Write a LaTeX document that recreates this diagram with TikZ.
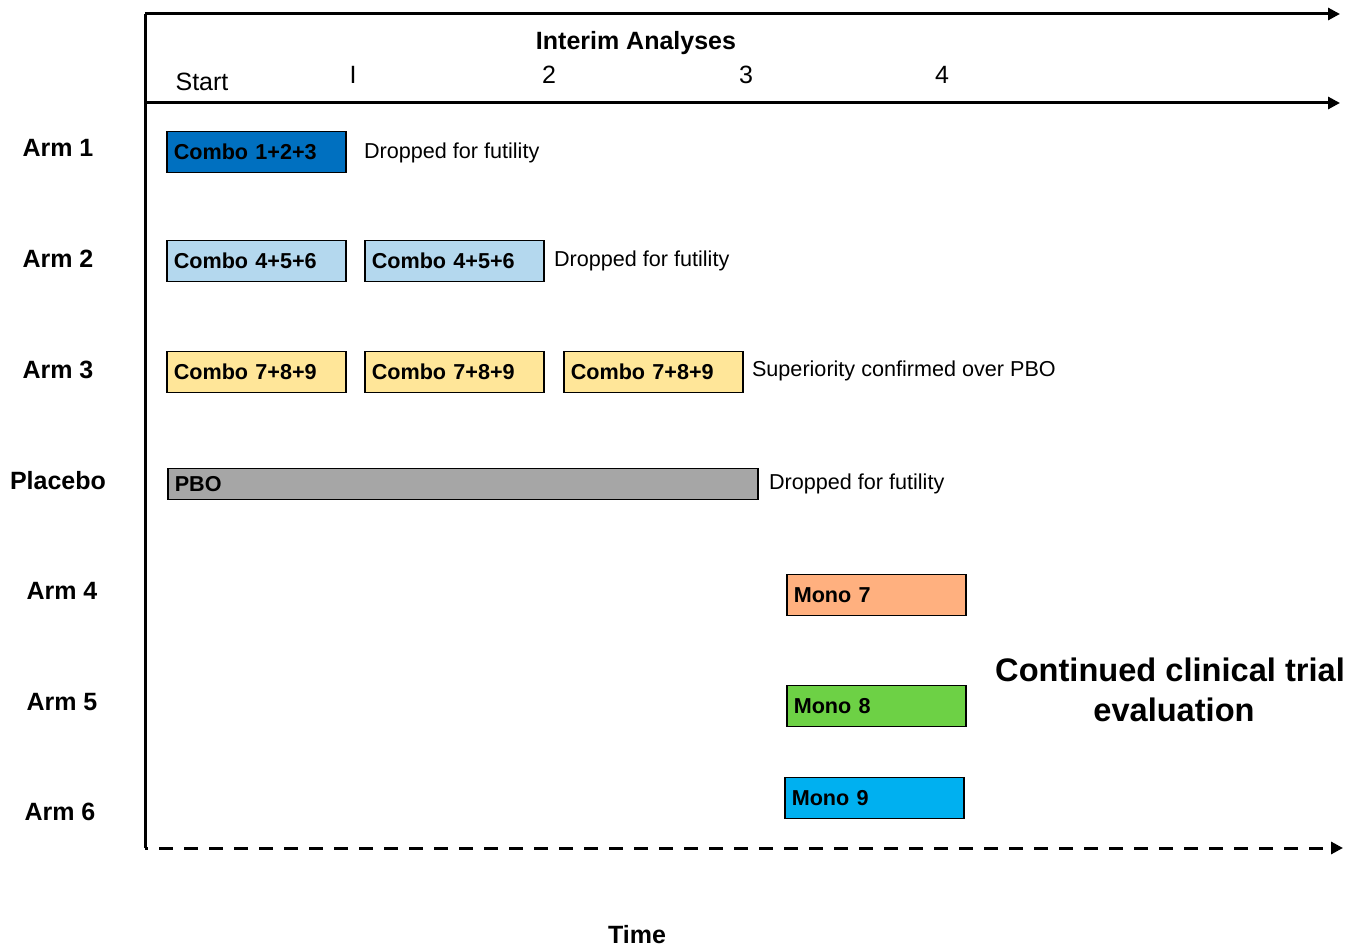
\documentclass[tikz,border=0pt]{standalone}
\usepackage{fontspec}
\setmainfont{Liberation Sans}
\usepackage{tikz}
\usetikzlibrary{arrows.meta}
\definecolor{comboA}{HTML}{0070C0}
\definecolor{comboB}{HTML}{B4D8EE}
\definecolor{comboC}{HTML}{FFE699}
\definecolor{pbogray}{HTML}{A6A6A6}
\definecolor{monoA}{HTML}{FFB07F}
\definecolor{monoB}{HTML}{6DD145}
\definecolor{monoC}{HTML}{00B0F0}
\def\boxfont{\fontsize{10.8}{13}\selectfont\bfseries}
\def\bigfont{\fontsize{12.5}{15}\selectfont}
\tikzset{
  axis/.style={line width=1.5pt,-{Triangle[length=6pt,width=6pt]}},
  armbox/.style={draw,line width=0.8pt,anchor=west,text width=82.5pt,minimum height=20.5pt,
    inner xsep=3.5pt,inner ysep=0pt,align=left,font=\boxfont},
  armlabel/.style={font=\bigfont\bfseries},
  note/.style={anchor=west,font=\fontsize{10.8}{13}\selectfont},
}

\begin{document}
\begin{tikzpicture}[x=0.5pt,y=-0.5pt]
    \useasboundingbox (0,0) rectangle (1356,946);
    \coordinate (tl) at (145,14);
    \coordinate (tr) at (1340,14);
    \coordinate (ml) at (145,103);
    \coordinate (mr) at (1340,103);
    \coordinate (bl) at (145,848);
    \coordinate (br) at (1343,848);
    \draw[axis] (tl) -- (tr);
    \draw[axis] (ml) -- (mr);
    \draw[line width=1.5pt] (tl) -- (bl);
    \draw[axis,dash pattern=on 7pt off 5.5pt,dash phase=-7pt] (bl) -- (br);

    \node[font=\bigfont\bfseries] (interim) at (636,43) {Interim Analyses};
    \node[font=\bigfont,anchor=base] (start) at (202,91) {Start};
    \node[font=\bigfont,anchor=base] (ia1) at (353,84) {I};
    \node[font=\bigfont,anchor=base] (ia2) at (549,84) {2};
    \node[font=\bigfont,anchor=base] (ia3) at (746,84) {3};
    \node[font=\bigfont,anchor=base] (ia4) at (942,84) {4};

    \node[armlabel] (arm1) at (58,148) {Arm 1};
    \node[armlabel] (arm2) at (58,259) {Arm 2};
    \node[armlabel] (arm3) at (58,370) {Arm 3};
    \node[armlabel] (pbo) at (58,481) {Placebo};
    \node[armlabel] (arm4) at (62,591) {Arm 4};
    \node[armlabel] (arm5) at (62,702) {Arm 5};
    \node[armlabel] (arm6) at (60,812) {Arm 6};

    \node[armbox,fill=comboA] (a1s1) at (166,152) {Combo 1+2+3};
    \node[note] (a1n) at (357,153) {Dropped for futility};

    \node[armbox,fill=comboB] (a2s1) at (166,261) {Combo 4+5+6};
    \node[armbox,fill=comboB] (a2s2) at (364,261) {Combo 4+5+6};
    \node[note] (a2n) at (547,261) {Dropped for futility};

    \node[armbox,fill=comboC] (a3s1) at (166,372) {Combo 7+8+9};
    \node[armbox,fill=comboC] (a3s2) at (364,372) {Combo 7+8+9};
    \node[armbox,fill=comboC] (a3s3) at (563,372) {Combo 7+8+9};
    \node[note] (a3n) at (745,371) {Superiority confirmed over PBO};

    \node[armbox,fill=pbogray,text width=288pt,minimum height=15.5pt] (pbos) at (167,484) {PBO};
    \node[note] (pbon) at (762,484) {Dropped for futility};

    \node[armbox,fill=monoA] (a4s) at (786,595) {Mono 7};
    \node[armbox,fill=monoB] (a5s) at (786,706) {Mono 8};
    \node[armbox,fill=monoC] (a6s) at (784,798) {Mono 9};

    \node[font=\fontsize{16.3}{20}\selectfont\bfseries,align=center] (cont) at (1170,690)
        {Continued clinical trial\\\hspace*{4pt}evaluation};
    \node[font=\bigfont\bfseries,anchor=base] (time) at (637,943) {Time};
\end{tikzpicture}
\end{document}
